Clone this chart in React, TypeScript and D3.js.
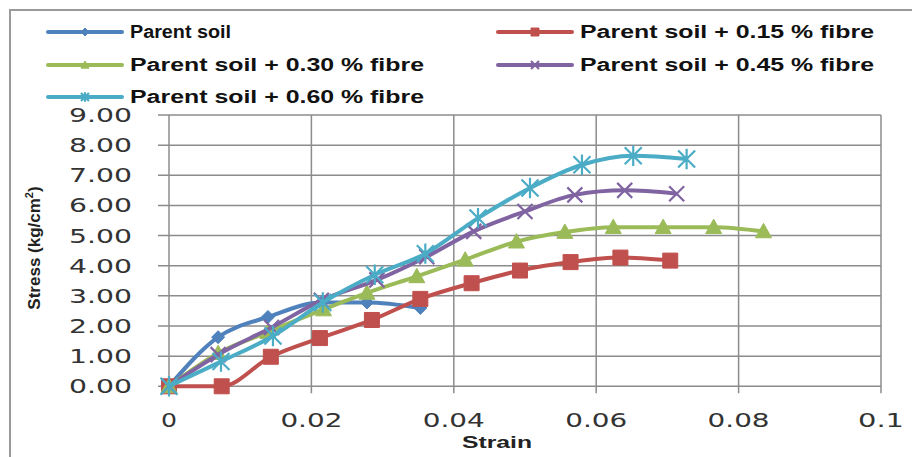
import React from "react";
import * as d3 from "d3";

const seriesNames = [
  "Parent soil",
  "Parent soil + 0.15 % fibre",
  "Parent soil + 0.30 % fibre",
  "Parent soil + 0.45 % fibre",
  "Parent soil + 0.60 % fibre",
];
const seriesColors = ["#4F81BD", "#C0504D", "#9BBB59", "#8064A2", "#4BACC6"];
const seriesMarkers = ["diamond", "square", "triangle", "x", "star"];

const strainParent = [0, 0.0069, 0.0139, 0.0214, 0.0278, 0.0353];
const stressParent = [0, 1.63, 2.3, 2.78, 2.78, 2.6];

const strain015 = [0, 0.0074, 0.0143, 0.0212, 0.0285, 0.0353, 0.0425, 0.0493, 0.0564, 0.0634, 0.0704];
const stress015 = [0, 0, 0.98, 1.6, 2.2, 2.9, 3.42, 3.84, 4.12, 4.27, 4.17];

const strain030 = [0, 0.0069, 0.0139, 0.0217, 0.0278, 0.0348, 0.0416, 0.0488, 0.0556, 0.0624, 0.0694, 0.0765, 0.0835];
const stress030 = [0, 1.1, 1.8, 2.55, 3.1, 3.65, 4.2, 4.8, 5.12, 5.28, 5.28, 5.28, 5.14];

const strain045 = [0, 0.0069, 0.0144, 0.0214, 0.0292, 0.0362, 0.0428, 0.05, 0.057, 0.064, 0.0713];
const stress045 = [0, 1.05, 1.95, 2.85, 3.53, 4.3, 5.14, 5.8, 6.35, 6.5, 6.39];

const strain060 = [0, 0.0073, 0.0146, 0.0216, 0.0289, 0.036, 0.0434, 0.0507, 0.058, 0.0652, 0.0727];
const stress060 = [0, 0.82, 1.67, 2.78, 3.7, 4.4, 5.58, 6.58, 7.35, 7.65, 7.54];

const xTicks = [0, 0.02, 0.04, 0.06, 0.08, 0.1];
const xTickLabels = ["0", "0.02", "0.04", "0.06", "0.08", "0.1"];
const yTicks = [0, 1, 2, 3, 4, 5, 6, 7, 8, 9];
const yTickLabels = ["0.00", "1.00", "2.00", "3.00", "4.00", "5.00", "6.00", "7.00", "8.00", "9.00"];

const allStrain = [strainParent, strain015, strain030, strain045, strain060];
const allStress = [stressParent, stress015, stress030, stress045, stress060];

const W = 912;
const H = 457;
const left = 169;
const right = 881;
const top = 115;
const bottom = 386.3;

function markerPath(kind: string, s: number): string {
  const h = s / 2;
  switch (kind) {
    case "diamond":
      return `M0,${-h}L${h},0L0,${h}L${-h},0Z`;
    case "square":
      return `M${-h},${-h}H${h}V${h}H${-h}Z`;
    case "triangle":
      return `M0,${-h}L${h},${h * 0.8}L${-h},${h * 0.8}Z`;
    case "x":
      return `M${-h},${-h}L${h},${h}M${h},${-h}L${-h},${h}`;
    case "star":
      return `M${-h},${-h}L${h},${h}M${h},${-h}L${-h},${h}M0,${-h * 1.2}V${h * 1.2}`;
  }
  return "";
}

function Marker({ kind, color, x, y, s }: { kind: string; color: string; x: number; y: number; s: number }) {
  const filled = kind === "diamond" || kind === "square" || kind === "triangle";
  return (
    <path
      d={markerPath(kind, s)}
      transform={`translate(${x},${y})`}
      fill={filled ? color : "none"}
      stroke={color}
      strokeWidth={filled ? 1 : 2.2}
      strokeLinejoin="round"
    />
  );
}

export default function App() {
  const x = d3.scaleLinear().domain([0, 0.1]).range([left, right]);
  const y = d3.scaleLinear().domain([0, 9]).range([bottom, top]);
  const line = d3
    .line<[number, number]>()
    .x((d) => x(d[0]))
    .y((d) => y(d[1]))
    .curve(d3.curveMonotoneX);

  const markerSizes = [13, 15, 16, 15, 17];
  const grid = "#8c8c8c";
  const tickFont = "'DejaVu Sans', Verdana, sans-serif";
  const boldFont = "'Liberation Sans', Arial, sans-serif";

  const legendPos = [
    { lx: 48, ly: 32 },
    { lx: 498, ly: 32 },
    { lx: 48, ly: 65 },
    { lx: 498, ly: 65 },
    { lx: 48, ly: 97 },
  ];

  return (
    <svg
      width={W}
      height={H}
      style={{ position: "absolute", left: 0, top: 0, background: "#fff" }}
    >
      <rect x={10} y={10} width={W + 20} height={H + 20} fill="#fff" stroke="#9a9a9a" strokeWidth={2} />

      {/* gridlines */}
      {yTicks.map((t) => (
        <line key={"gy" + t} x1={left - 11} x2={right} y1={y(t)} y2={y(t)} stroke={grid} strokeWidth={1.5} />
      ))}
      {xTicks.map((t) => (
        <line key={"gx" + t} x1={x(t)} x2={x(t)} y1={top} y2={bottom + 7} stroke={grid} strokeWidth={1.5} />
      ))}

      {/* y tick labels */}
      {yTicks.map((t, i) => (
        <text
          key={"yl" + t}
          x={132}
          y={y(t) + 7}
          textAnchor="end"
          fontFamily={tickFont}
          fontSize={19}
          fill="#333"
          textLength={63}
          lengthAdjust="spacingAndGlyphs"
        >
          {yTickLabels[i]}
        </text>
      ))}
      {/* x tick labels */}
      {xTicks.map((t, i) => (
        <text
          key={"xl" + t}
          x={x(t)}
          y={427}
          textAnchor="middle"
          fontFamily={tickFont}
          fontSize={19}
          fill="#333"
          textLength={xTickLabels[i].length === 1 ? 16 : xTickLabels[i].length === 3 ? 46 : 62}
          lengthAdjust="spacingAndGlyphs"
        >
          {xTickLabels[i]}
        </text>
      ))}

      {/* axis titles */}
      <text
        x={497}
        y={448}
        textAnchor="middle"
        fontFamily={boldFont}
        fontWeight="bold"
        fontSize={16}
        fill="#222"
        textLength={70}
        lengthAdjust="spacingAndGlyphs"
      >
        Strain
      </text>
      <text
        transform={`translate(40,248) rotate(-90)`}
        textAnchor="middle"
        fontFamily={boldFont}
        fontWeight="bold"
        fontSize={17}
        fill="#222"
      >
        Stress (kg/cm<tspan dy={-7} fontSize={11}>2</tspan><tspan dy={7}>)</tspan>
      </text>

      {/* series */}
      {allStrain.map((xs, si) => {
        const pts: [number, number][] = xs.map((v, k) => [v, allStress[si][k]]);
        return (
          <g key={"s" + si}>
            <path d={line(pts) || ""} fill="none" stroke={seriesColors[si]} strokeWidth={4} strokeLinejoin="round" />
            {pts.map((p, k) => (
              <Marker
                key={k}
                kind={seriesMarkers[si]}
                color={seriesColors[si]}
                x={x(p[0])}
                y={y(p[1])}
                s={markerSizes[si]}
              />
            ))}
          </g>
        );
      })}

      {/* legend */}
      {seriesNames.map((name, si) => {
        const { lx, ly } = legendPos[si];
        return (
          <g key={"lg" + si}>
            <line x1={lx} x2={lx + 74} y1={ly} y2={ly} stroke={seriesColors[si]} strokeWidth={4} strokeLinecap="round" />
            <Marker kind={seriesMarkers[si]} color={seriesColors[si]} x={lx + 37} y={ly} s={8} />
            <text
              x={lx + 82}
              y={ly + 6}
              fontFamily={boldFont}
              fontWeight="bold"
              fontSize={18}
              fill="#111"
              textLength={si === 0 ? 101 : 294}
              lengthAdjust="spacingAndGlyphs"
            >
              {name}
            </text>
          </g>
        );
      })}
    </svg>
  );
}
